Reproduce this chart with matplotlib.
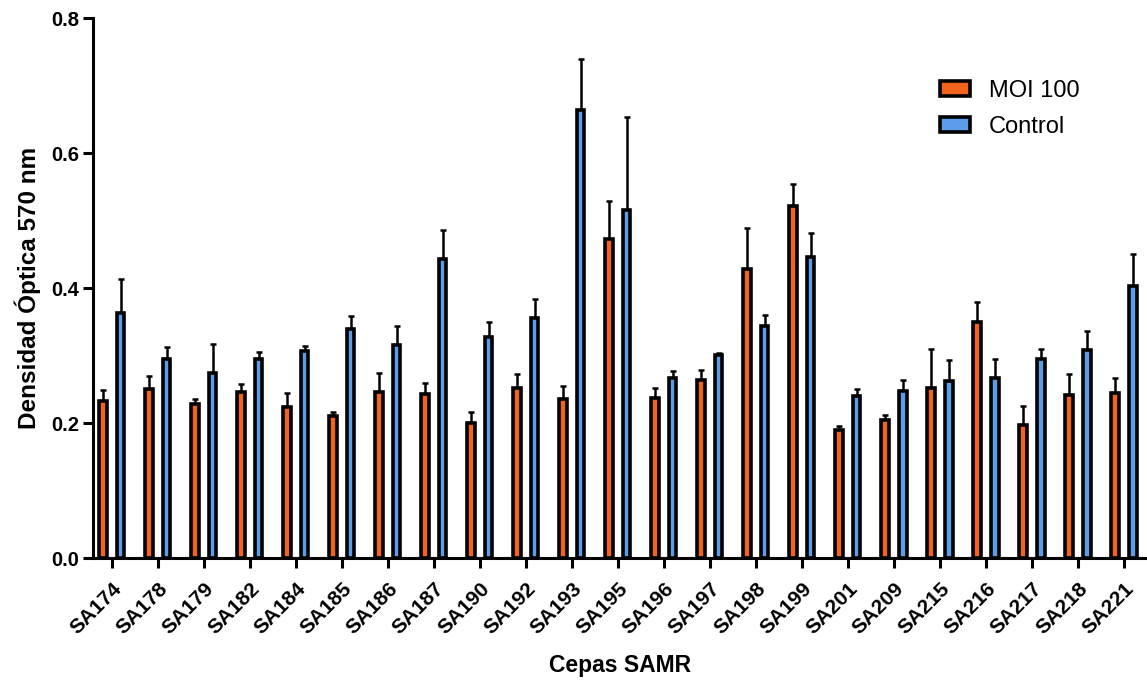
import matplotlib
matplotlib.use("Agg")
import matplotlib.pyplot as plt
import numpy as np

categories = ["SA174", "SA178", "SA179", "SA182", "SA184", "SA185", "SA186", "SA187",
              "SA190", "SA192", "SA193", "SA195", "SA196", "SA197", "SA198", "SA199",
              "SA201", "SA209", "SA215", "SA216", "SA217", "SA218", "SA221"]
moi100 = [0.233, 0.251, 0.228, 0.246, 0.223, 0.211, 0.246, 0.243, 0.200, 0.252, 0.235, 0.473,
          0.237, 0.263, 0.428, 0.521, 0.190, 0.205, 0.252, 0.350, 0.197, 0.242, 0.244]
moi100_err = [0.016, 0.018, 0.008, 0.012, 0.022, 0.005, 0.028, 0.017, 0.017, 0.021, 0.020, 0.056,
              0.015, 0.016, 0.061, 0.033, 0.005, 0.007, 0.057, 0.030, 0.028, 0.030, 0.022]
control = [0.363, 0.295, 0.274, 0.295, 0.307, 0.340, 0.315, 0.443, 0.328, 0.356, 0.663, 0.515,
           0.267, 0.301, 0.343, 0.446, 0.240, 0.248, 0.262, 0.267, 0.295, 0.308, 0.403]
control_err = [0.051, 0.018, 0.043, 0.010, 0.007, 0.019, 0.029, 0.043, 0.022, 0.027, 0.077, 0.138,
               0.010, 0.003, 0.017, 0.036, 0.011, 0.016, 0.032, 0.028, 0.014, 0.029, 0.048]
series_names = ["MOI 100", "Control"]
yticks = [0.0, 0.2, 0.4, 0.6, 0.8]

plt.rcParams['font.family'] = ['Liberation Sans', 'DejaVu Sans']

fig = plt.figure(figsize=(11.47, 6.81), dpi=100)
ax = fig.add_axes([93/1147, 1-558/681, 1-93/1147, (558-18)/681])

x = np.arange(len(categories))
off = 0.19
w = 0.165
orange = "#F2631C"
blue = "#5C9CE8"
lw = 2.6

ax.bar(x - off, moi100, width=w, color=orange, edgecolor="black", linewidth=lw,
       label=series_names[0], zorder=2)
ax.bar(x + off, control, width=w, color=blue, edgecolor="black", linewidth=lw,
       label=series_names[1], zorder=2)
ax.errorbar(x - off, moi100, yerr=[np.zeros(len(x)), moi100_err], fmt="none",
            ecolor="black", elinewidth=1.8, capsize=2.5, capthick=1.8, zorder=1)
ax.errorbar(x + off, control, yerr=[np.zeros(len(x)), control_err], fmt="none",
            ecolor="black", elinewidth=1.8, capsize=2.5, capthick=1.8, zorder=1)

ax.set_xlim(-0.41, 22.5)
ax.set_ylim(0, 0.8)
ax.set_yticks(yticks)
ax.set_yticklabels([f"{v:.1f}" for v in yticks], fontsize=14.5, fontweight="bold")
ax.set_xticks(x)
ax.set_xticklabels(categories, fontsize=15, fontweight="bold", rotation=45,
                   ha="right", rotation_mode="anchor")
for sp in ["top", "right"]:
    ax.spines[sp].set_visible(False)
for sp in ["left", "bottom"]:
    ax.spines[sp].set_linewidth(2.2)
ax.tick_params(axis="both", direction="out", length=7, width=2.2, pad=3)
ax.tick_params(axis="x", pad=8)

ax.set_ylabel("Densidad Óptica 570 nm", fontsize=17.5, fontweight="bold", labelpad=7)
ax.set_xlabel("Cepas SAMR", fontsize=16.5, fontweight="bold", labelpad=12)

leg = ax.legend(loc="upper left", bbox_to_anchor=(0.783, 0.925), frameon=False,
                fontsize=17, handlelength=1.3, handleheight=0.55, handletextpad=0.8,
                labelspacing=0.6)
for h in leg.legend_handles:
    h.set_linewidth(2.6)

fig.savefig("out.png", dpi=100)
